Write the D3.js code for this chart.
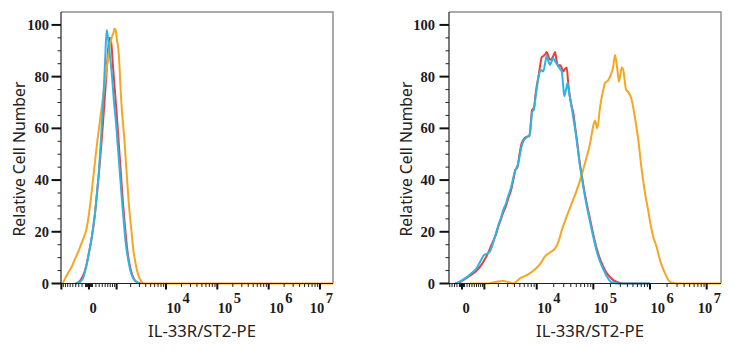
<!DOCTYPE html>
<html><head><meta charset="utf-8">
<script src="https://cdn.jsdelivr.net/npm/d3@7"></script>
<style>body{margin:0;background:#fff;} svg{display:block;}</style>
</head><body>
<svg id="chart" width="733" height="350"></svg>
<script>
// ---------- DATA ----------
const xTitle = "IL-33R/ST2-PE";
const yTitle = "Relative Cell Number";
const yMajorTicks = [0, 20, 40, 60, 80, 100];
const yMinorStep = 5;
const xDecadeLabels = [4, 5, 6, 7];          // labelled decades 10^n
const xZeroLabel = "0";
const seriesNames = ["Blank control", "Isotype control", "IL-33R/ST2-PE"];
const seriesColors = ["#EC3D3B", "#F5A623", "#2BB5E6"];

// Left panel: fluorescence intensity / relative cell number
const leftRedX = [-390,-263,-172,-114,-57,0,57,114,172,232,294,357,424,494,568,627,689,755,821,917,1021,1133,1255,1386,1528,1683,1851,2035,2235,2568,3231];
const leftRedY = [0,1,3,5,8,12,16,21,27,35,43,52,62,73,84,92,95,92,84,74,64,53,42,31,22,14,8.5,5,2.5,0.8,0];
const leftCyanX = [-424,-294,-172,-114,-57,0,57,114,172,232,294,357,424,494,557,607,689,777,870,971,1078,1194,1318,1453,1597,1753,1923,2133,2452,3087];
const leftCyanY = [0,0.3,2,4.5,8,12,16,21,27,35,44,56,69,85,98,95,88,80,70,62,52,42,32,23,15,10,6,3,1,0];
const leftOrangeX = [-1021,-917,-821,-689,-540,-424,-325,-232,-143,-71,0,57,114,172,232,294,357,424,494,568,647,731,798,845,893,943,1021,1093,1163,1223,1299,1386,1492,1597,1724,1851,1987,2103,2235,2452,2690,2949,3231,3705,17900000];
const leftOrangeY = [0,0.3,1.9,4,6.5,9.5,12,15,18,21,27,33,40,47,54,60,66,72,78,84,90,94,96,97,98.5,98.3,94,91,84,76,68,62,55,47,38,30,24,19.4,14,9,5,2.5,1,0,0];

// Right panel
const rightRedX = [-278,-78,118,319,610,819,1037,1236,1416,1583,1796,1994,2250,2488,2797,3086,3460,3811,4178,4541,4933,5359,5771,6637,7445,7918,8247,8951,9516,10117,10756,11434,12254,13080,14019,15022,16034,17180,18412,19655,21061,22563,24085,25808,27657,29516,31625,33888,36161,38741,41515,44308,47476,50875,54294,58175,62335,66524,76385,87344,99863,114693,131161,149987,172184,196885,225149,258517,338013,1000000];
const rightRedY = [0,0.5,1.8,3,5,7,9.5,12,14.5,16.5,19,22,25,27.5,30,33,36,40,44,45,50,54,55.5,56.8,57,63,67,68,73,77,80,84,87.5,88,88.5,89.5,88,86.5,87,88,89.5,86,84,84.5,83.5,82,83,83.5,77,72,68.5,66,61,56,51,46,42,38,31,25,19,13.5,9.5,6.5,4,2.5,1.3,0.6,0,0];
const rightCyanX = [-278,-78,118,319,610,819,980,1155,1348,1583,1796,1994,2250,2488,2797,3086,3460,3811,4178,4541,4933,5359,5771,6637,7445,7918,8247,8951,9516,10117,10756,11434,12254,13080,14019,15022,16034,17180,18412,19655,21061,22563,24085,25808,27657,29516,30739,32935,35005,37201,41515,44308,47476,50875,54294,58175,62335,66524,76385,87344,99863,114693,131161,149987,172184,196885,222400,272529,1000000];
const rightCyanY = [0,0.8,2,3.5,6,9,11,11.5,12.5,16,19.5,22.5,25.5,28.5,31,34,37,41,44,45.5,49,53,55,56.5,57.5,62,66,67.5,72,76,80,82,82.5,82,85,88,86,84.5,86,87,86,85,84,83,82,76,72.5,75,77.5,74,68,64,60,55.5,50.5,45.5,41.5,37.5,30,24,18,12.5,8.5,5.5,2.8,1,0.3,0,0];
const rightOrangeX = [319,1137,1487,1967,2456,3047,3811,5036,7087,9324,11434,14019,17180,21061,24085,27657,33888,41515,50875,62335,76385,87344,99863,107037,117534,131161,149987,160725,181526,196885,225149,241232,264873,283844,316730,338013,377159,414090,475433,543614,621617,713583,816143,933147,1000000,1143563,1313051,1501317,1839330,2253420,2958336,17900000];
const rightOrangeY = [0,0,0.3,0.8,1.0,0.6,0,2,3.5,5.5,7.5,10.5,12,13.5,16,20.5,26,31,36,42,49,54,61,63,60,68,75,77.5,78.5,80,84,88.4,83,78,83.5,82.5,75,74,71,64,55.5,44,35,28,24,18,14,9,3.9,0.6,0,0];

// ---------- LAYOUT ----------
const svg = d3.select("#chart");
const plotTop = 12, plotBottom = 283.5;
const y = d3.scaleLinear().domain([0, 105]).range([plotBottom, plotTop]);

const zip = (xs, ys) => xs.map((v, i) => [v, ys[i]]);

const panels = [
  { left: 61, right: 333, cofactor: 633, xMin: -1020, xMax: 1.79e7, yLabelGap: 12, yTitleX: 25,
    series: [zip(leftRedX, leftRedY), zip(leftOrangeX, leftOrangeY), zip(leftCyanX, leftCyanY)] },
  { left: 449, right: 721, cofactor: 963, xMin: -533, xMax: 1.79e7, yLabelGap: 14, yTitleX: 412,
    series: [zip(rightRedX, rightRedY), zip(rightOrangeX, rightOrangeY), zip(rightCyanX, rightCyanY)] }
];
const drawOrderColors = [seriesColors[0], seriesColors[1], seriesColors[2]];
const tickFont = "Liberation Serif, serif";
const tickSize = 14.5;

function fitText(sel, target, base) {
  sel.attr("font-size", base);
  const len = sel.node().getComputedTextLength();
  sel.attr("font-size", base * target / len);
}

panels.forEach(p => {
  const T = v => Math.asinh(v / p.cofactor) / Math.LN10;
  const xs = d3.scaleLinear().domain([T(p.xMin), T(p.xMax)]).range([p.left, p.right]);
  const X = v => xs(T(v));
  const g = svg.append("g");

  // frame (top/right grey)
  g.append("path").attr("d", `M${p.left},${plotTop}H${p.right}V${plotBottom}`)
    .attr("fill", "none").attr("stroke", "#8f8f8f").attr("stroke-width", 1.5);

  // curves
  const line = d3.line().x(d => X(d[0])).y(d => y(d[1])).curve(d3.curveMonotoneX);
  p.series.forEach((s, i) => {
    g.append("path").attr("d", line(s)).attr("fill", "none")
      .attr("stroke", drawOrderColors[i]).attr("stroke-width", 2)
      .attr("stroke-linejoin", "round");
  });

  // axes lines
  g.append("line").attr("x1", p.left).attr("x2", p.left).attr("y1", plotTop).attr("y2", plotBottom + 0.5)
    .attr("stroke", "#222").attr("stroke-width", 1.2);
  g.append("line").attr("x1", p.left).attr("x2", p.right).attr("y1", plotBottom).attr("y2", plotBottom)
    .attr("stroke", "#222").attr("stroke-width", 1.2);

  // y ticks
  const yMinor = d3.range(0, 101, yMinorStep).filter(v => !yMajorTicks.includes(v));
  yMinor.forEach(v => g.append("line").attr("x1", p.left - 3.5).attr("x2", p.left)
    .attr("y1", y(v)).attr("y2", y(v)).attr("stroke", "#222").attr("stroke-width", 1));
  yMajorTicks.forEach(v => {
    g.append("line").attr("x1", p.left - 9.5).attr("x2", p.left)
      .attr("y1", y(v)).attr("y2", y(v)).attr("stroke", "#111").attr("stroke-width", 2);
    g.append("text").attr("x", p.left - p.yLabelGap).attr("y", y(v) + 5)
      .attr("text-anchor", "end").attr("font-family", tickFont)
      .attr("font-weight", "bold").attr("font-size", tickSize).attr("fill", "#1a1a1a").text(v);
  });

  // x ticks (logicle-like)
  const majors = [-1e3, 0, 1e3, 1e4, 1e5, 1e6, 1e7].filter(v => v >= p.xMin && v <= p.xMax);
  const minors = [];
  for (let n = 1; n <= 6; n++) for (let k = 1; k <= 9; k++) {
    const v = k * Math.pow(10, n);
    [v, -v].forEach(w => { if (!majors.includes(w) && w > p.xMin && w < p.xMax) minors.push(w); });
  }
  minors.forEach(v => g.append("line").attr("x1", X(v)).attr("x2", X(v))
    .attr("y1", plotBottom).attr("y2", plotBottom + 3.5).attr("stroke", "#222").attr("stroke-width", 1));
  majors.forEach(v => g.append("line").attr("x1", X(v)).attr("x2", X(v))
    .attr("y1", plotBottom).attr("y2", plotBottom + 6).attr("stroke", "#111").attr("stroke-width", 2));

  // x tick labels
  const lab = (v, exp) => {
    const t = g.append("text").attr("y", 312.5).attr("font-family", tickFont)
      .attr("font-weight", "bold").attr("font-size", tickSize).attr("fill", "#1a1a1a");
    if (exp === null) t.text(xZeroLabel);
    else {
      t.append("tspan").text("10");
      t.append("tspan").attr("dy", -10).attr("dx", 1.5).text(exp);
    }
    const w = t.node().getComputedTextLength() + (exp === null ? 0 : 1.5);
    const x0 = Math.min(X(v) + 0.5, p.right - w);
    t.attr("x", x0);
  };
  lab(0, null);
  xDecadeLabels.forEach(n => lab(Math.pow(10, n), n));

  // titles
  const xt = g.append("text").attr("x", (p.left + p.right) / 2 + 5).attr("y", 336.5)
    .attr("text-anchor", "middle").attr("font-family", "Noto Sans, sans-serif")
    .attr("fill", "#222").text(xTitle);
  fitText(xt, 108, 16);
  const yt = g.append("text").attr("transform", `translate(${p.yTitleX},159) rotate(-90)`)
    .attr("text-anchor", "middle").attr("font-family", "Noto Sans, sans-serif")
    .attr("fill", "#222").text(yTitle);
  fitText(yt, 155, 16);
});
</script>
</body></html>
